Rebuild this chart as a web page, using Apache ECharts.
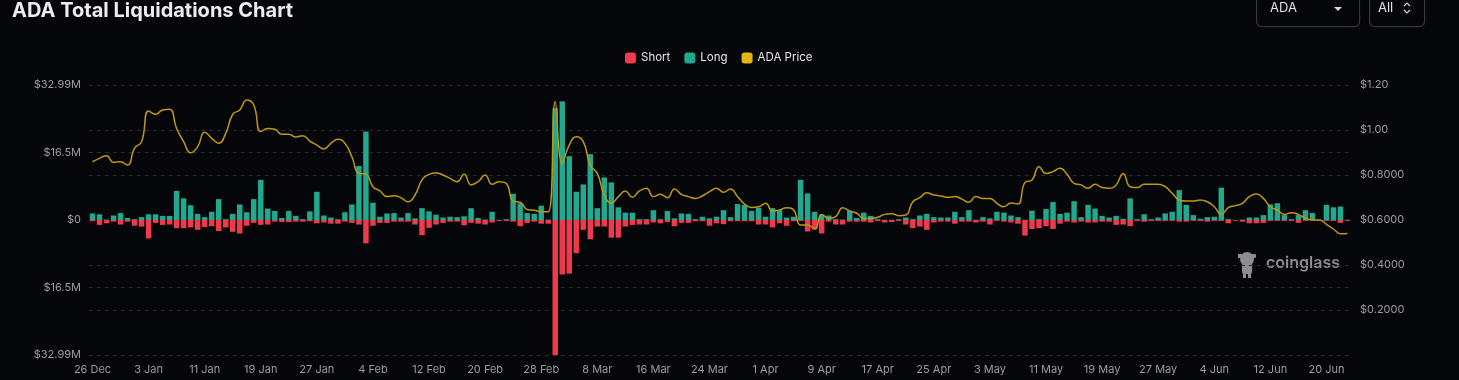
<!DOCTYPE html>
<html>
<head>
<meta charset="utf-8">
<script src="https://cdn.jsdelivr.net/npm/echarts@6/dist/echarts.min.js"></script>
<style>
html,body{margin:0;padding:0;background:#05060a;}
#chart{width:1459px;height:380px;}
</style>
</head>
<body>
<div id="chart"></div>
<script>
// Dates: daily from 26 Dec 2024 to 23 Jun 2025 (180 days)
const startDate = '2024-12-26';
const dayCount = 180;
const monthNames = ['Jan','Feb','Mar','Apr','May','Jun','Jul','Aug','Sep','Oct','Nov','Dec'];
const categories = [];
(function(){
  const d = new Date(startDate + 'T00:00:00Z');
  for (let i = 0; i < dayCount; i++) {
    categories.push(d.getUTCDate() + ' ' + monthNames[d.getUTCMonth()]);
    d.setUTCDate(d.getUTCDate() + 1);
  }
})();

// Short liquidations (USD millions, shown below zero)
const shortM = [
0.3,1.2,0.8,0.4,1.1,0.4,1.4,1.6,4.5,0.7,1.2,1.1,2.0,2.0,1.8,2.4,1.7,1.5,2.7,1.8,
2.9,3.3,1.4,0.7,1.2,1.1,0.4,0.5,0.5,0.4,0.4,0.3,0.8,0.6,0.9,0.9,0.4,0.7,1.1,5.7,
1.4,0.7,0.7,0.4,0.4,0.4,1.1,3.7,1.9,1.1,0.7,0.4,0.4,1.3,0.7,0.9,1.1,0.6,0.2,0.2,
0.4,1.5,0.7,0.4,0.9,0.9,32.99,13.3,13.1,8.1,2.4,4.7,1.6,1.6,4.3,4.3,1.6,1.2,1.1,1.1,
0.6,0.8,0.5,1.5,0.7,0.7,0.3,0.3,1.4,0.8,1.0,0.3,0.3,0.3,0.3,1.1,1.1,1.8,0.8,1.4,
0.3,0.2,2.8,2.3,3.3,0.4,1.1,1.1,0.4,0.4,0.4,0.6,0.2,0.6,0.5,0.2,1.1,2.0,1.6,2.4,
0.6,0.4,0.4,0.9,0.4,0.4,0.6,0.4,1.1,0.2,0.4,0.6,0.9,3.8,2.2,2.0,1.5,2.2,0.9,0.4,
0.6,0.4,0.6,0.6,0.4,0.4,1.2,1.1,1.5,0.2,0.4,0.2,0.2,0.2,0.2,0.4,0.4,0.2,0.2,0.4,
0.2,0.2,0.8,0.15,0.4,0.8,0.8,0.7,0.2,0.2,0.2,0.2,0.7,0.2,0.2,0.2,0.2,0.2,0.7,0.2
];
// Long liquidations (USD millions, shown above zero)
const longM = [
1.6,1.4,0.1,1.1,1.7,0.5,0.2,0.7,1.4,1.4,1.0,1.0,7.1,5.3,3.6,1.5,0.7,2.0,5.1,0.2,
1.5,3.8,1.9,5.1,9.8,2.8,2.2,0.5,2.2,1.0,0.2,2.1,6.9,1.1,0.6,0.2,1.9,3.8,13.2,21.6,
4.2,0.8,1.6,1.7,0.6,1.7,0.4,2.9,2.1,1.3,0.6,0.8,0.7,0.9,2.9,0.5,0.1,2.0,0.05,0.2,
6.4,4.1,1.7,1.5,3.5,0.1,27.3,29.0,15.6,6.9,8.7,16.1,2.9,10.4,9.2,3.1,1.8,1.8,0.2,0.2,
2.4,0.2,2.2,0.4,1.6,1.5,0.2,0.8,0.4,0.8,2.4,0.7,3.9,3.7,2.2,3.0,0.8,2.9,2.4,0.6,
0.8,9.8,6.5,2.0,1.3,1.1,0.2,0.1,2.2,0.5,1.8,1.0,0.2,0.05,0.05,0.2,0.6,0.2,1.1,1.5,
0.7,0.6,0.6,2.0,0.7,2.4,0.05,0.7,0.4,2.0,1.8,1.1,0.7,0.05,2.3,0.2,2.7,4.4,1.5,1.8,
4.6,0.7,3.7,2.8,1.0,0.6,1.0,0.3,5.3,0.2,1.4,0.2,0.6,1.6,2.0,7.3,3.7,1.2,0.3,0.7,
0.8,7.9,0.2,0.05,0.1,0.6,0.6,1.2,3.8,4.1,1.2,0.2,1.2,2.4,1.7,0.05,3.7,3.1,3.3,0.05
];
// ADA price (USD)
const priceUSD = [
0.859,0.874,0.886,0.856,0.859,0.844,0.919,0.948,1.084,1.070,1.089,1.092,1.007,0.948,0.899,0.926,0.990,0.963,0.941,0.985,
1.070,1.089,1.133,1.111,0.993,1.007,1.003,0.981,0.981,0.969,0.975,0.951,0.933,0.916,0.941,0.959,0.941,0.881,0.807,0.804,
0.748,0.729,0.704,0.708,0.699,0.681,0.711,0.778,0.803,0.809,0.800,0.785,0.770,0.803,0.756,0.770,0.800,0.759,0.770,0.763,
0.684,0.679,0.647,0.643,0.637,0.637,1.126,0.852,0.933,0.970,0.948,0.844,0.807,0.711,0.674,0.704,0.729,0.701,0.729,0.741,
0.704,0.714,0.699,0.738,0.714,0.704,0.696,0.708,0.726,0.741,0.723,0.738,0.704,0.671,0.656,0.659,0.674,0.640,0.644,0.655,
0.644,0.578,0.578,0.560,0.625,0.607,0.615,0.655,0.640,0.630,0.607,0.607,0.612,0.625,0.628,0.619,0.622,0.681,0.699,0.721,
0.711,0.707,0.701,0.704,0.693,0.679,0.704,0.696,0.696,0.674,0.659,0.676,0.671,0.767,0.778,0.837,0.807,0.815,0.830,0.803,
0.763,0.756,0.741,0.759,0.744,0.741,0.756,0.807,0.748,0.744,0.759,0.759,0.759,0.748,0.719,0.689,0.684,0.684,0.689,0.681,
0.659,0.625,0.655,0.664,0.674,0.704,0.716,0.696,0.659,0.644,0.625,0.632,0.625,0.607,0.601,0.600,0.581,0.560,0.539,0.540
];
// Axis tick labels
const liqTickLabels = ['$32.99M','$16.5M','$0','$16.5M','$32.99M'];
const priceTickLabels = ['','$0.2000','$0.4000','$0.6000','$0.8000','$1.00','$1.20'];
const liqMax = 32.99; // millions

const chart = echarts.init(document.getElementById('chart'), null, {renderer:'canvas'});
const FONT = 'Inter, "Noto Sans", sans-serif';
const axisLabelColor = '#9b9ca1';
const gridLine = {show:true, lineStyle:{color:'#2b2c31', type:[4,4], width:1}};

const option = {
  backgroundColor:'#05060a',
  animation:false,
  textStyle:{fontFamily:FONT},
  title:{
    text:'ADA Total Liquidations Chart',
    left:7, top:-4,
    textStyle:{color:'#ededf0', fontSize:20, fontWeight:'bold', fontFamily:FONT}
  },
  legend:{
    top:47, left:620,
    itemWidth:11, itemHeight:11, itemGap:14,
    icon:'roundRect',
    textStyle:{color:'#e6e6e9', fontSize:11.5, fontFamily:FONT},
    data:['Short','Long','ADA Price']
  },
  grid:{left:89, right:108, top:85, bottom:25, containLabel:false},
  xAxis:{
    type:'category',
    data:categories,
    boundaryGap:true,
    axisLine:{show:false},
    axisTick:{show:false},
    axisLabel:{interval:7, color:axisLabelColor, fontSize:11, margin:9, fontFamily:FONT},
    splitLine:{show:false}
  },
  yAxis:[
    {
      type:'value',
      min:-liqMax*1e6, max:liqMax*1e6, interval:liqMax*1e6/2,
      axisLine:{show:false}, axisTick:{show:false},
      axisLabel:{color:axisLabelColor, fontSize:11, margin:8, fontFamily:FONT,
        formatter:function(v){
          const idx = Math.round((liqMax*1e6 - v)/(liqMax*1e6/2));
          return liqTickLabels[idx] || '';
        }},
      splitLine:gridLine
    },
    {
      type:'value',
      min:0, max:1.2, interval:0.2,
      position:'right',
      axisLine:{show:false}, axisTick:{show:false},
      axisLabel:{color:axisLabelColor, fontSize:11, margin:9, fontFamily:FONT,
        formatter:function(v){
          return priceTickLabels[Math.round(v/0.2)] || '';
        }},
      splitLine:gridLine
    }
  ],
  series:[
    {
      name:'Short', type:'bar', stack:'liq', yAxisIndex:0,
      barWidth:'78%',
      itemStyle:{color:'#f03a4c'},
      data:shortM.map(v => -v*1e6)
    },
    {
      name:'Long', type:'bar', stack:'liq', yAxisIndex:0,
      barWidth:'78%',
      itemStyle:{color:'#21a88e'},
      data:longM.map(v => v*1e6)
    },
    {
      name:'ADA Price', type:'line', yAxisIndex:1,
      smooth:true, symbol:'none',
      lineStyle:{color:'#bf980f', width:1.5},
      itemStyle:{color:'#e1b512'},
      z:5,
      data:priceUSD
    }
  ],
  graphic:[
    {type:'rect', left:1256, top:-6, shape:{width:103, height:32, r:5},
      style:{fill:'transparent', stroke:'#34353a', lineWidth:1.2}},
    {type:'text', left:1270, top:2, style:{text:'ADA', fill:'#e2e2e5', font:'13px '+FONT}},
    {type:'polygon', shape:{points:[[1334,7],[1342,7],[1338,11]]}, style:{fill:'#d8d8db'}},
    {type:'rect', left:1369, top:-6, shape:{width:55, height:32, r:5},
      style:{fill:'transparent', stroke:'#34353a', lineWidth:1.2}},
    {type:'text', left:1378, top:2, style:{text:'All', fill:'#e2e2e5', font:'13px '+FONT}},
    {type:'polyline', shape:{points:[[1404,6],[1407,3],[1410,6]]}, style:{stroke:'#d8d8db', lineWidth:1.2, fill:null}},
    {type:'polyline', shape:{points:[[1404,10],[1407,13],[1410,10]]}, style:{stroke:'#d8d8db', lineWidth:1.2, fill:null}},
    // coinglass watermark
    {type:'group', left:1238, top:252, children:[
      {type:'circle', shape:{cx:10, cy:7, r:7}, style:{fill:'#8d8e92'}},
      {type:'rect', shape:{x:5, y:11, width:10, height:11, r:2}, style:{fill:'#8d8e92'}},
      {type:'rect', shape:{x:1, y:2, width:4, height:4, r:1}, style:{fill:'#8d8e92'}},
      {type:'rect', shape:{x:15, y:2, width:4, height:4, r:1}, style:{fill:'#8d8e92'}},
      {type:'rect', shape:{x:6, y:21, width:3, height:5}, style:{fill:'#8d8e92'}},
      {type:'rect', shape:{x:11, y:21, width:3, height:5}, style:{fill:'#8d8e92'}}
    ]},
    {type:'text', left:1266, top:255, style:{text:'coinglass', fill:'#8d8e92', font:'600 16px '+FONT}}
  ]
};
chart.setOption(option);
</script>
</body>
</html>
